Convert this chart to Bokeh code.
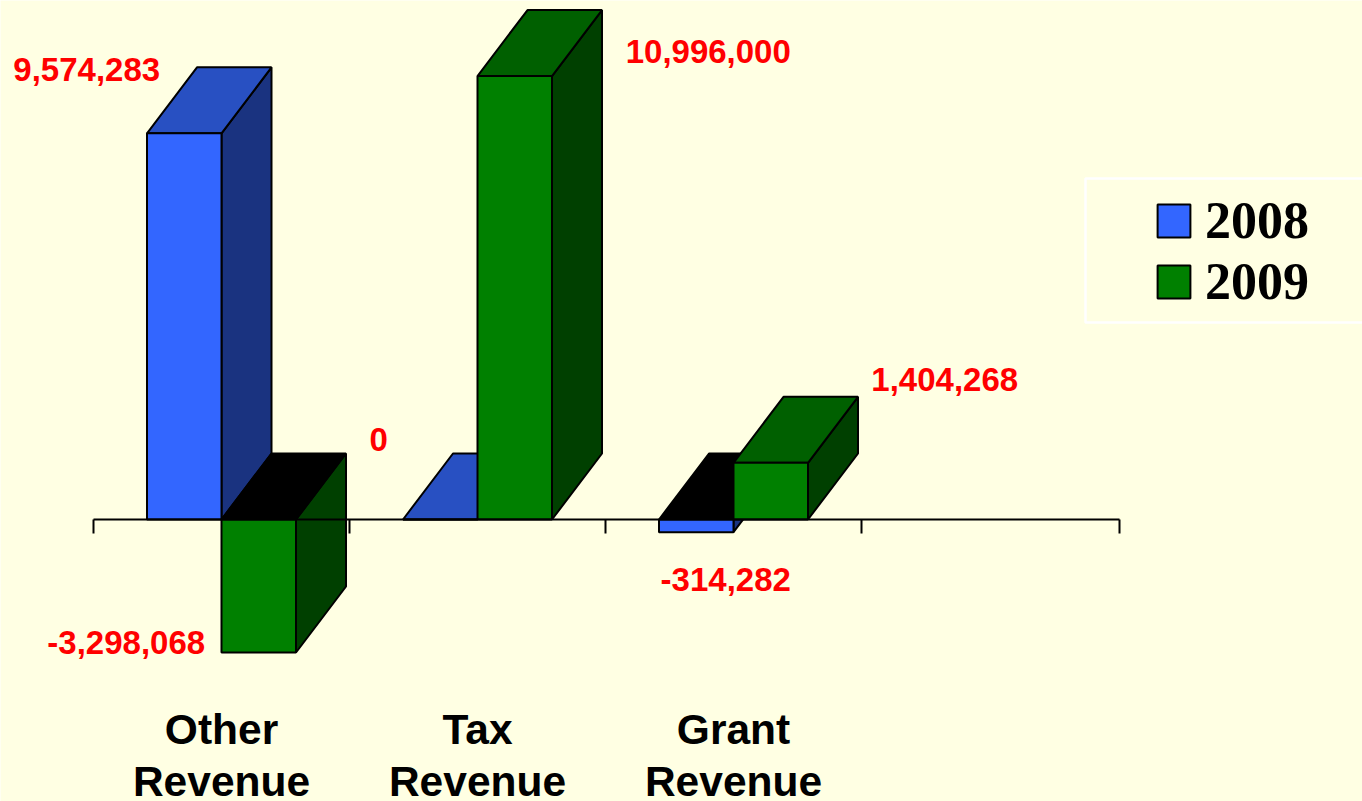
from bokeh.plotting import figure
from bokeh.embed import file_html
from bokeh.resources import INLINE
from bokeh.models import Legend, LegendItem, BoxAnnotation, Range1d
from bokeh.core.properties import value
import numpy as np

# ---- data ----
categories = ["Other\nRevenue", "Tax\nRevenue", "Grant\nRevenue"]
tick_positions = [0, 1, 2, 3, 4.008]
series_names = ["2008", "2009"]
values_2008 = [9574283, 0, -314282]
values_2009 = [-3298068, 10996000, 1404268]
labels_2008 = ["9,574,283", "0", "-314,282"]
labels_2009 = ["-3,298,068", "10,996,000", "1,404,268"]

# ---- style ----
BG = "#FFFFE3"
LABEL_RED = "#FF0000"
front_colors = ["#3366FF", "#008000"]
side_colors = ["#1A3380", "#004000"]
top_colors = ["#2850C2", "#006000"]
NEG_TOP = "#000000"
LW = 2

# ---- layout (pixels) ----
W, H = 1362, 801
X0_PX, CAT_PX = 93, 256
Y0_PX, PX_PER_UNIT = 519, 40.33e-6
BAR_W = 74.5 / CAT_PX
DX = 50 / CAT_PX
DY = 66 / PX_PER_UNIT

p = figure(width=W, height=H, output_backend="svg", toolbar_location=None,
           x_range=Range1d(-X0_PX / CAT_PX, (W - X0_PX) / CAT_PX),
           y_range=Range1d(-(H - Y0_PX) / PX_PER_UNIT, Y0_PX / PX_PER_UNIT),
           y_axis_location=None, min_border=0,
           background_fill_color=BG, border_fill_color=BG)
p.outline_line_color = None
p.grid.visible = False

ax = p.xaxis[0]
ax.ticker = tick_positions
ax.fixed_location = 0
ax.bounds = (tick_positions[0], tick_positions[-1])
ax.major_tick_in = 0
ax.major_tick_out = 14
ax.minor_tick_line_color = None
ax.major_label_text_color = None
ax.major_label_text_font_size = "1px"
ax.axis_line_width = LW
ax.major_tick_line_width = LW
ax.axis_line_color = "#000000"
ax.major_tick_line_color = "#000000"
ax.level = "overlay"

centers = np.arange(len(categories)) + 0.5
front_renderers = []
for i, vals in enumerate([values_2008, values_2009]):
    vals = np.array(vals, dtype=float)
    left = centers - BAR_W if i == 0 else centers
    right = left + BAR_W
    side_x, side_y, top_x, top_y, top_c = [], [], [], [], []
    for l, r, v in zip(left, right, vals):
        side_x.append([r, r + DX, r + DX, r])
        side_y.append([0, DY, v + DY, v])
        t = max(v, 0)
        top_x.append([l, l + DX, r + DX, r])
        top_y.append([t, t + DY, t + DY, t])
        top_c.append(NEG_TOP if v < 0 else top_colors[i])
    p.patches(side_x, side_y, fill_color=side_colors[i], line_color="black", line_width=LW)
    p.patches(top_x, top_y, fill_color=top_c, line_color="black", line_width=LW)
    front_renderers.append(
        p.vbar(x=(left + right) / 2, width=BAR_W, bottom=0, top=vals,
               fill_color=front_colors[i], line_color="black", line_width=LW))

# data labels
label_dx = [[-97.5, -61.5, 29.5], [-132.5, 193.5, 174]]
label_dy = [[-64, -80, 47], [-10, -25, -83]]
for i, (vals, texts) in enumerate(zip([values_2008, values_2009], [labels_2008, labels_2009])):
    xs = centers - BAR_W / 2 if i == 0 else centers + BAR_W / 2
    p.text(x=xs, y=vals, text=texts, x_offset=label_dx[i], y_offset=label_dy[i],
           text_align="center", text_baseline="middle",
           text_font=value("Liberation Sans"), text_font_style="bold",
           text_font_size="33px", text_color=LABEL_RED)

# category labels
for line, off in [(0, 210), (1, 262)]:
    p.text(x=centers, y=[0] * len(centers), text=[c.split("\n")[line] for c in categories],
           y_offset=off, text_align="center", text_baseline="middle",
           text_font=value("Liberation Sans"), text_font_style="bold",
           text_font_size="42.5px", text_color="#000000")

# legend box (screen units count from the bottom of the canvas here)
p.add_layout(BoxAnnotation(left=1085, right=W + 10, top=H - 178, bottom=H - 322,
                           left_units="screen", right_units="screen",
                           top_units="screen", bottom_units="screen",
                           fill_color=None, line_color="#FFFFFF", line_alpha=1.0, line_width=2.5))

legend = Legend(items=[LegendItem(label=n, renderers=[r]) for n, r in zip(series_names, front_renderers)],
                location=(1153, 490),
                orientation="vertical", background_fill_alpha=0, border_line_color=None,
                glyph_width=41, glyph_height=41, label_standoff=11, spacing=2, padding=0, margin=0,
                label_text_font="Liberation Serif", label_text_font_style="bold",
                label_text_font_size="52px", label_text_color="#000000")
p.add_layout(legend, "center")

open("out.html", "w").write(file_html(p, INLINE))
